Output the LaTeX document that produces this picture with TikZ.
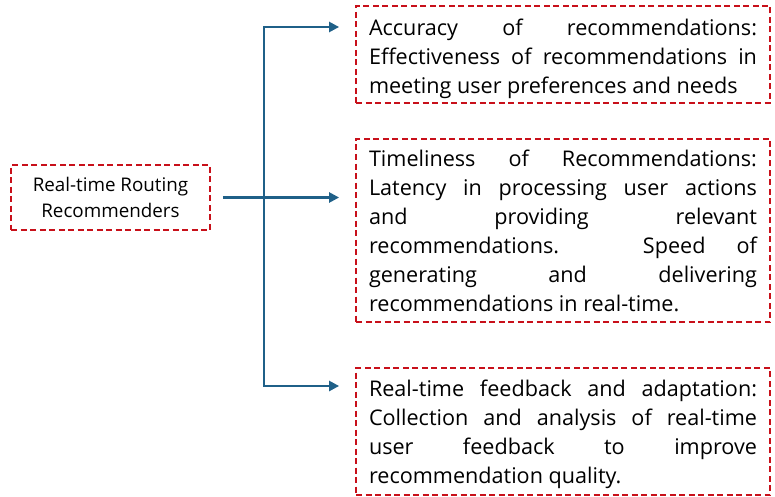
\documentclass[tikz,border=0pt]{standalone}
\usepackage{fontspec}
\setmainfont{Open Sans}
\usetikzlibrary{arrows.meta,calc}
\definecolor{boxred}{RGB}{200,16,26}
\definecolor{linkblue}{RGB}{31,96,136}
\tikzset{
  dashbox/.style={draw=boxred, line width=1.8pt, dash pattern=on 6pt off 3.5pt,
    rectangle, inner sep=0pt, minimum width=414pt},
  bodytext/.style={text width=388pt, align=justify,
    font=\fontsize{21.6pt}{29pt}\selectfont},
  conn/.style={draw=linkblue, line width=2.4pt},
  tip/.style={-{Triangle[length=10pt,width=10pt]}}
}
\begin{document}
\begin{tikzpicture}[x=1pt,y=-1pt]
\useasboundingbox (0,0) rectangle (775,497);

% source box
\node[dashbox, minimum width=199pt, minimum height=65pt,
      align=center, font=\fontsize{18.8pt}{26pt}\selectfont] (src) at (110.5,197.5)
  {Real-time Routing\\Recommenders};

% target boxes
\node[dashbox, minimum height=97pt] (b1) at (563,54.5) {};
\node[bodytext] (t1) at ([yshift=-4pt]b1.center)
  {Accuracy of recommendations:\linebreak Effectiveness of recommendations in\linebreak meeting user preferences and needs};

\node[dashbox, minimum height=183pt] (b2) at (563,230.5) {};
\node[bodytext] (t2) at (b2.center)
  {Timeliness of Recommendations:\linebreak Latency in processing user actions\linebreak and providing relevant\linebreak recommendations. Speed of\linebreak generating and delivering\linebreak recommendations in real-time.};

\node[dashbox, minimum height=127pt] (b3) at (563,431.5) {};
\node[bodytext] (t3) at ([yshift=-2.5pt]b3.center)
  {Real-time feedback and adaptation:\linebreak Collection and analysis of real-time\linebreak user feedback to improve\linebreak recommendation quality.};

% connectors
\coordinate (jTop) at (264,27);
\coordinate (jBot) at (264,386);
\draw[conn, {Triangle[length=10pt,width=10pt]}-{Triangle[length=10pt,width=10pt]},
      shorten <=16pt, shorten >=16pt]
  (jTop -| b1.west) -- (jTop) -- (jBot) -- (jBot -| b3.west);
\draw[conn, tip, shorten <=12pt, shorten >=16pt]
  (src.east) -- (src.east -| b2.west);
\end{tikzpicture}
\end{document}
